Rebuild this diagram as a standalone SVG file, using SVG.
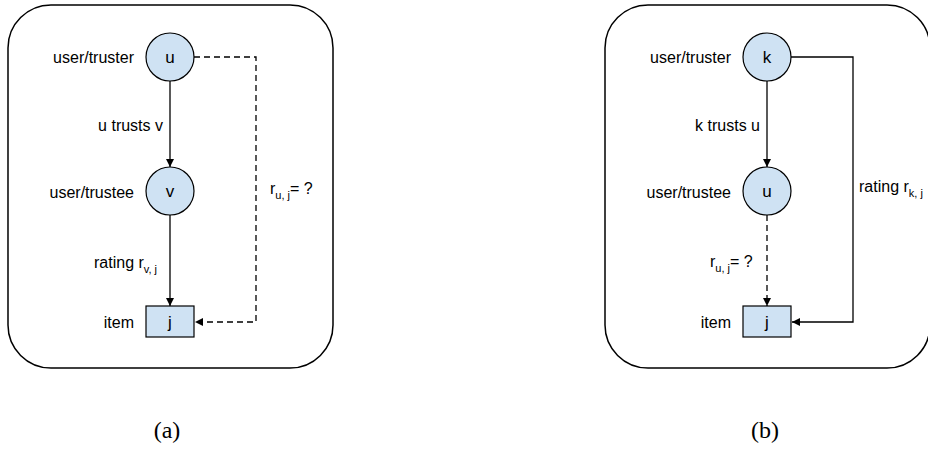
<svg xmlns="http://www.w3.org/2000/svg" width="928" height="451" viewBox="0 0 928 451">
<defs>
<marker id="ah" viewBox="0 0 10 10" refX="10" refY="5" markerWidth="8" markerHeight="8" markerUnits="userSpaceOnUse" orient="auto">
<path d="M0,0 L10,5 L0,10 z" fill="#000"/>
</marker>
</defs>
<style>
.frame{fill:#fff;stroke:#000;stroke-width:1.5}
.node{fill:#cfe2f3;stroke:#000;stroke-width:1.2}
.lbl{font-family:"Liberation Sans",Arial,sans-serif;font-size:16px;fill:#000}
.in{font-family:"Liberation Sans",Arial,sans-serif;font-size:17px;fill:#000;text-anchor:middle}
.sub{font-size:11px}
.cap{font-family:"Liberation Serif","Times New Roman",serif;font-size:24px;fill:#000;text-anchor:middle}
.edge{fill:none;stroke:#000;stroke-width:1.3}
.dash{stroke-dasharray:6,4}
</style>
<rect class="frame" x="8" y="5" width="325" height="363" rx="43" ry="43"/>
<rect class="frame" x="605" y="5" width="325" height="363" rx="43" ry="43"/>

<g id="connectors">
<path class="edge" d="M170,81 L170,167" marker-end="url(#ah)"/>
<path class="edge" d="M170,215 L170,306" marker-end="url(#ah)"/>
<path class="edge dash" d="M194,57 L256,57 L256,322 L195,322" marker-end="url(#ah)"/>
<path class="edge" d="M767,81 L767,167" marker-end="url(#ah)"/>
<path class="edge dash" d="M767,215 L767,306" marker-end="url(#ah)"/>
<path class="edge" d="M791,57 L853,57 L853,322 L792,322" marker-end="url(#ah)"/>
</g>

<g id="a-u"><circle class="node" cx="170" cy="57" r="24"/><text class="in" x="170" y="63">u</text></g>
<g id="a-v"><circle class="node" cx="170" cy="191" r="24"/><text class="in" x="170" y="197">v</text></g>
<g id="a-j"><rect class="node" x="146" y="306" width="48" height="31"/><text class="in" x="170" y="328">j</text></g>

<g id="b-k"><circle class="node" cx="767" cy="57" r="24"/><text class="in" x="767" y="63">k</text></g>
<g id="b-u"><circle class="node" cx="767" cy="191" r="24"/><text class="in" x="767" y="197">u</text></g>
<g id="b-j"><rect class="node" x="743" y="306" width="48" height="31"/><text class="in" x="767" y="328">j</text></g>

<g id="labels">
<text class="lbl" x="134" y="63" text-anchor="end">user/truster</text>
<text class="lbl" x="163" y="131" text-anchor="end">u trusts v</text>
<text class="lbl" x="134" y="198" text-anchor="end">user/trustee</text>
<text class="lbl" x="94" y="268">rating r<tspan class="sub" dy="5">v, j</tspan></text>
<text class="lbl" x="134" y="328" text-anchor="end">item</text>
<text class="lbl" x="270" y="194">r<tspan class="sub" dy="5">u, j</tspan><tspan dy="-5">= ?</tspan></text>

<text class="lbl" x="731" y="63" text-anchor="end">user/truster</text>
<text class="lbl" x="760" y="131" text-anchor="end">k trusts u</text>
<text class="lbl" x="731" y="198" text-anchor="end">user/trustee</text>
<text class="lbl" x="710" y="267">r<tspan class="sub" dy="5">u, j</tspan><tspan dy="-5">= ?</tspan></text>
<text class="lbl" x="731" y="328" text-anchor="end">item</text>
<text class="lbl" x="859" y="192">rating r<tspan class="sub" dy="5">k, j</tspan></text>
</g>

<text class="cap" x="167" y="438">(a)</text>
<text class="cap" x="765" y="438">(b)</text>
</svg>
